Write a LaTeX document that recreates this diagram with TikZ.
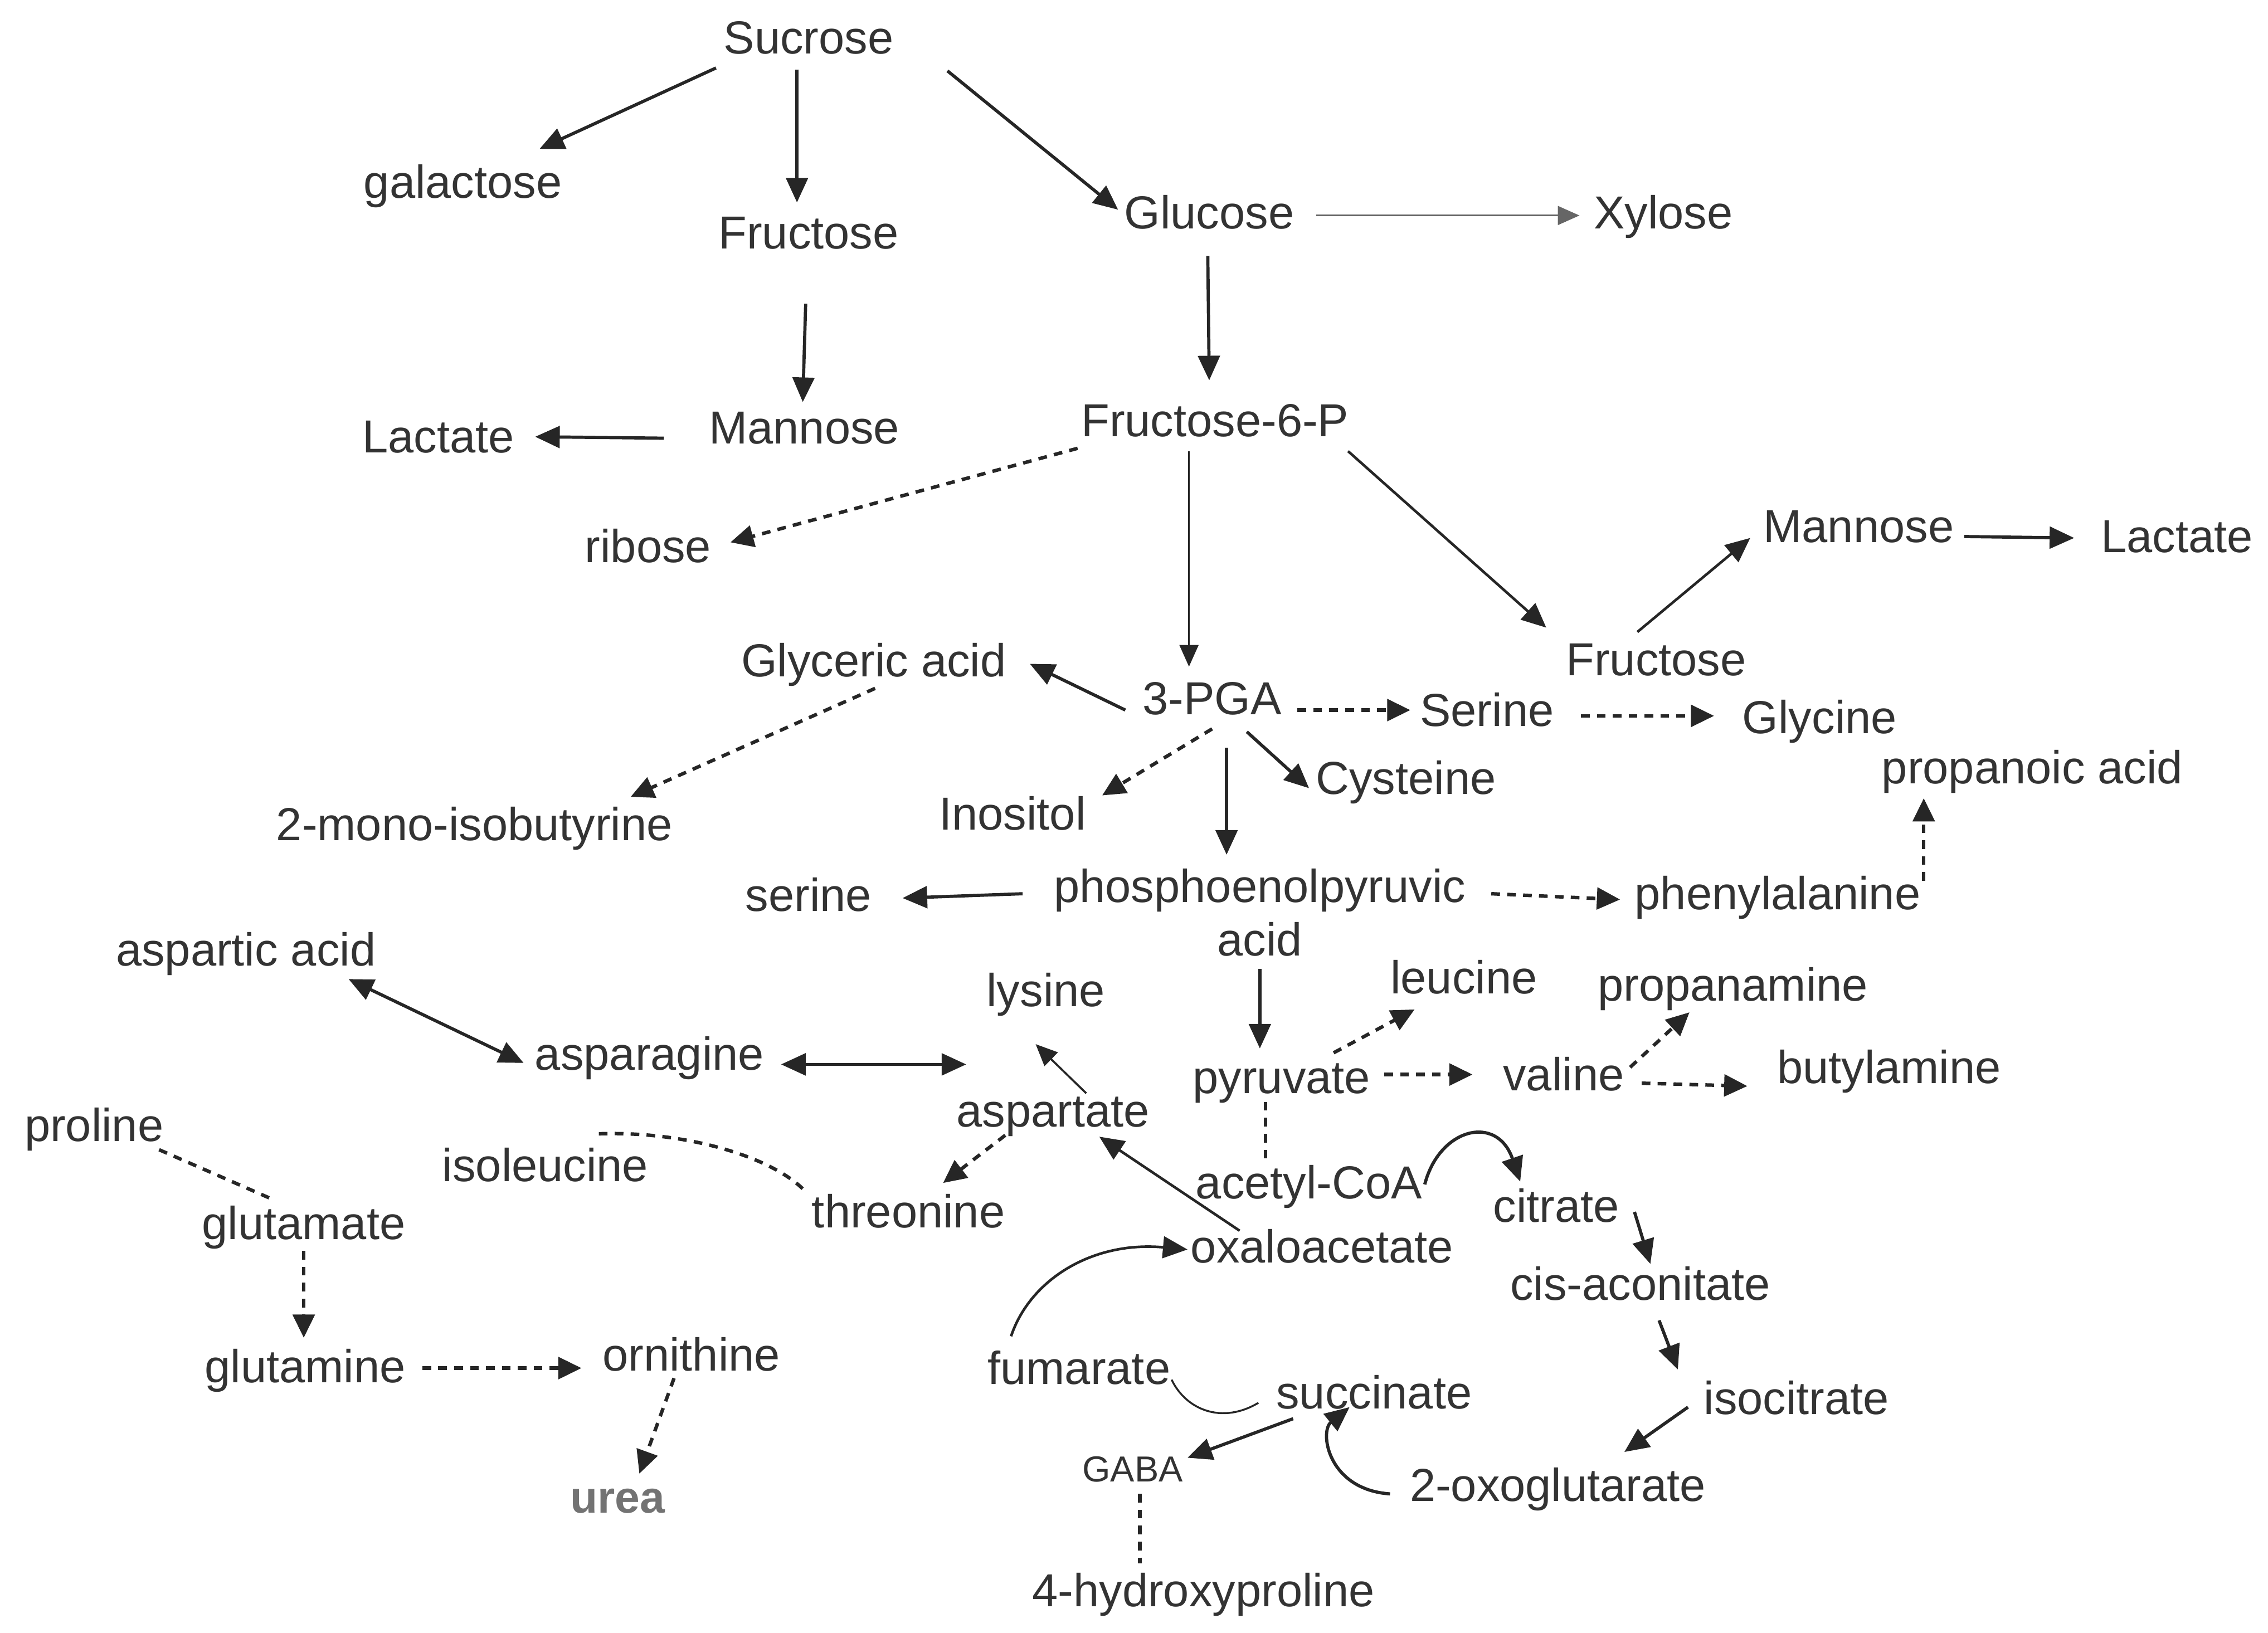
\documentclass[tikz,border=0pt]{standalone}
\usepackage{fontspec}
\setmainfont{Liberation Sans}
\usetikzlibrary{arrows.meta}
\definecolor{txt}{HTML}{333333}
\definecolor{ln}{HTML}{262626}
\begin{document}
\begin{tikzpicture}[x=1pt,y=-1pt,
  lbl/.style={inner sep=0pt, text=txt, font=\fontsize{32}{37}\selectfont, text height=26pt, text depth=4pt},
  rx/.style={draw=ln, line width=2.2pt, -{Triangle[length=17pt,width=15pt]}},
  rxt/.style={draw=ln, line width=1.4pt, -{Triangle[length=15pt,width=13pt]}},
  dsh/.style={draw=ln, line width=2.4pt, dash pattern=on 6pt off 5pt, -{Triangle[length=16pt,width=15pt]}},
  dln/.style={draw=ln, line width=2.4pt, dash pattern=on 6pt off 5pt},
  bi/.style={draw=ln, line width=2.2pt, {Triangle[length=17pt,width=15pt]}-{Triangle[length=17pt,width=15pt]}},
  thinln/.style={draw=ln, line width=1.3pt},
]
\fill[white] (0,0) rectangle (1568,1129);
\useasboundingbox (0,0) rectangle (1568,1129);

\node[lbl] (suc) at (559,26) {Sucrose};
\node[lbl] (gal) at (320,126) {galactose};
\node[lbl] (fru1) at (559,161) {Fructose};
\node[lbl] (glc) at (836,147) {Glucose};
\node[lbl] (xyl) at (1150,147) {Xylose};
\node[lbl] (man1) at (556,296) {Mannose};
\node[lbl] (lac1) at (303,302) {Lactate};
\node[lbl] (f6p) at (840,291) {Fructose-6-P};
\node[lbl] (rib) at (448,378) {ribose};
\node[lbl] (man2) at (1285,364) {Mannose};
\node[lbl] (lac2) at (1505,371) {Lactate};
\node[lbl] (fru2) at (1145,456) {Fructose};
\node[lbl] (gly) at (604,457) {Glyceric acid};
\node[lbl] (pga) at (838,483) {3-PGA};
\node[lbl] (ser1) at (1028,491) {Serine};
\node[lbl] (glyc) at (1258,496) {Glycine};
\node[lbl] (prop) at (1405,531) {propanoic acid};
\node[lbl] (mono) at (328,570) {2-mono-isobutyrine};
\node[lbl] (ino) at (700,563) {Inositol};
\node[lbl] (cys) at (972,538) {Cysteine};
\node[lbl] (ser2) at (559,619) {serine};
\node[inner sep=0pt, text=txt, font=\fontsize{32}{37}\selectfont, align=center] (pep) at (871,631) {phosphoenolpyruvic\\acid};
\node[lbl] (phe) at (1229,618) {phenylalanine};
\node[lbl] (asp) at (170,657) {aspartic acid};
\node[lbl] (lys) at (723,685) {lysine};
\node[lbl] (leu) at (1012,676) {leucine};
\node[lbl] (ppa) at (1198,681) {propanamine};
\node[lbl] (asn) at (449,729) {asparagine};
\node[lbl] (pyr) at (886,745) {pyruvate};
\node[lbl] (val) at (1081,743) {valine};
\node[lbl] (but) at (1306,738) {butylamine};
\node[lbl] (aspt) at (728,768) {aspartate};
\node[lbl] (pro) at (65,778) {proline};
\node[lbl] (ile) at (377,806) {isoleucine};
\node[lbl] (acoa) at (905,818) {acetyl-CoA};
\node[lbl] (cit) at (1076,834) {citrate};
\node[lbl] (thr) at (628,838) {threonine};
\node[lbl] (glu) at (210,846) {glutamate};
\node[lbl] (oaa) at (914,862) {oxaloacetate};
\node[lbl] (cis) at (1134,888) {cis-aconitate};
\node[lbl] (gln) at (211,945) {glutamine};
\node[lbl] (orn) at (478,937) {ornithine};
\node[lbl] (fum) at (746,946) {fumarate};
\node[lbl] (suc2) at (950,963) {succinate};
\node[lbl] (iso) at (1242,967) {isocitrate};
\node[lbl, font=\fontsize{25}{30}\selectfont, text height=20pt, text depth=3pt] (gaba) at (783,1016) {GABA};
\node[lbl] (oxo) at (1077,1027) {2-oxoglutarate};
\node[lbl, text=black!55, font=\fontsize{31}{37}\selectfont\bfseries] (urea) at (427,1035) {urea};
\node[lbl] (hyp) at (832,1100) {4-hydroxyproline};

% sugars
\draw[rx] ([shift={(-64,21)}]suc.center) -- ([shift={(53,-23)}]gal.center);
\draw[rx] ([shift={(-8,22)}]suc.center) -- ([shift={(-8,-21)}]fru1.center);
\draw[rx] ([shift={(96,23)}]suc.center) -- ([shift={(-63,-2)}]glc.center);
\draw[draw=black!60, line width=1.3pt, -{Triangle[length=15pt,width=13pt]}, fill=black!80] ([shift={(74,2)}]glc.center) -- ([shift={(-58,2)}]xyl.center);
\draw[rx] ([shift={(-1,30)}]glc.center) -- ([shift={(-4,-28)}]f6p.center);
\draw[rx] ([shift={(-2,49)}]fru1.center) -- ([shift={(-1,-18)}]man1.center);
\draw[rx] ([shift={(-97,7)}]man1.center) -- ([shift={(67,0)}]lac1.center);
\draw[dsh] ([shift={(-95,19)}]f6p.center) -- ([shift={(57,-3)}]rib.center);
\draw[rxt] ([shift={(-18,21)}]f6p.center) -- ([shift={(-16,-22)}]pga.center);
\draw[rx, line width=1.8pt] ([shift={(92,21)}]f6p.center) -- ([shift={(-76,-22)}]fru2.center);
\draw[rx, line width=1.8pt] ([shift={(-13,-19)}]fru2.center) -- ([shift={(-75,8)}]man2.center);
\draw[rx] ([shift={(73,7)}]man2.center) -- ([shift={(-71,1)}]lac2.center);

% 3-PGA
\draw[rx] ([shift={(-60,8)}]pga.center) -- ([shift={(108,2)}]gly.center);
\draw[dsh] ([shift={(59,8)}]pga.center) -- ([shift={(-53,0)}]ser1.center);
\draw[dsh] ([shift={(65,4)}]ser1.center) -- ([shift={(-73,-1)}]glyc.center);
\draw[dsh] ([shift={(0,21)}]pga.center) -- ([shift={(62,-13)}]ino.center);
\draw[rx] ([shift={(24,23)}]pga.center) -- ([shift={(-67,7)}]cys.center);
\draw[rx] ([shift={(10,34)}]pga.center) -- ([shift={(-23,-40)}]pep.center);
\draw[dsh] ([shift={(1,19)}]gly.center) -- ([shift={(108,-19)}]mono.center);

% PEP
\draw[rx] ([shift={(-164,-13)}]pep.center) -- ([shift={(65,2)}]ser2.center);
\draw[dsh] ([shift={(160,-13)}]pep.center) -- ([shift={(-109,4)}]phe.center);
\draw[dsh] ([shift={(101,-9)}]phe.center) -- ([shift={(-75,21)}]prop.center);
\draw[rx] ([shift={(0,39)}]pep.center) -- ([shift={(-15,-20)}]pyr.center);

% pyruvate
\draw[dsh] ([shift={(36,-17)}]pyr.center) -- ([shift={(-34,22)}]leu.center);
\draw[dsh] ([shift={(71,-2)}]pyr.center) -- ([shift={(-63,0)}]val.center);
\draw[dsh] ([shift={(46,-5)}]val.center) -- ([shift={(-30,19)}]ppa.center);
\draw[dsh] ([shift={(54,6)}]val.center) -- ([shift={(-98,13)}]but.center);
\draw[dln] ([shift={(-11,17)}]pyr.center) -- ([shift={(-30,-13)}]acoa.center);

% aspartate family
\draw[bi] ([shift={(71,20)}]asp.center) -- ([shift={(-87,6)}]asn.center);
\draw[bi] ([shift={(91,7)}]asn.center) -- ([shift={(-60,-32)}]aspt.center);
\draw[rxt] ([shift={(23,-12)}]aspt.center) -- ([shift={(-7,37)}]lys.center);
\draw[dsh] ([shift={(-33,17)}]aspt.center) -- ([shift={(24,-20)}]thr.center);
\draw[rx, line width=1.8pt] ([shift={(-57,-11)}]oaa.center) -- ([shift={(32,18)}]aspt.center);
\draw[dln] ([shift={(37,-22)}]ile.center) .. controls (470,782) and (530,798) .. ([shift={(-73,-16)}]thr.center);

% TCA cycle
\draw[rx] ([shift={(80,1)}]acoa.center) .. controls (995,780) and (1035,770) .. ([shift={(-25,-17)}]cit.center);
\draw[rx] ([shift={(54,4)}]cit.center) -- ([shift={(7,-14)}]cis.center);
\draw[rx] ([shift={(13,25)}]cis.center) -- ([shift={(-82,-20)}]iso.center);
\draw[rx] ([shift={(-75,6)}]iso.center) -- ([shift={(46,-23)}]oxo.center);
\draw[rx] ([shift={(-116,6)}]oxo.center) .. controls (918,1030) and (912,990) .. ([shift={(-17,10)}]suc2.center);
\draw[rx] ([shift={(-56,18)}]suc2.center) -- ([shift={(38,-8)}]gaba.center);
\draw[dln] ([shift={(5,17)}]gaba.center) -- ([shift={(-44,-19)}]hyp.center);
\draw[thinln] ([shift={(64,8)}]fum.center) .. controls (820,975) and (845,985) .. ([shift={(-80,7)}]suc2.center);
\draw[rx, line width=1.8pt] ([shift={(-47,-22)}]fum.center) .. controls (712,885) and (755,858) .. ([shift={(-93,2)}]oaa.center);

% glutamate family
\draw[dln] ([shift={(45,17)}]pro.center) -- ([shift={(-20,-16)}]glu.center);
\draw[dsh] ([shift={(0,19)}]glu.center) -- ([shift={(-1,-20)}]gln.center);
\draw[dsh] ([shift={(81,1)}]gln.center) -- ([shift={(-76,9)}]orn.center);
\draw[dsh] ([shift={(-12,16)}]orn.center) -- ([shift={(15,-16)}]urea.center);
\end{tikzpicture}
\end{document}
